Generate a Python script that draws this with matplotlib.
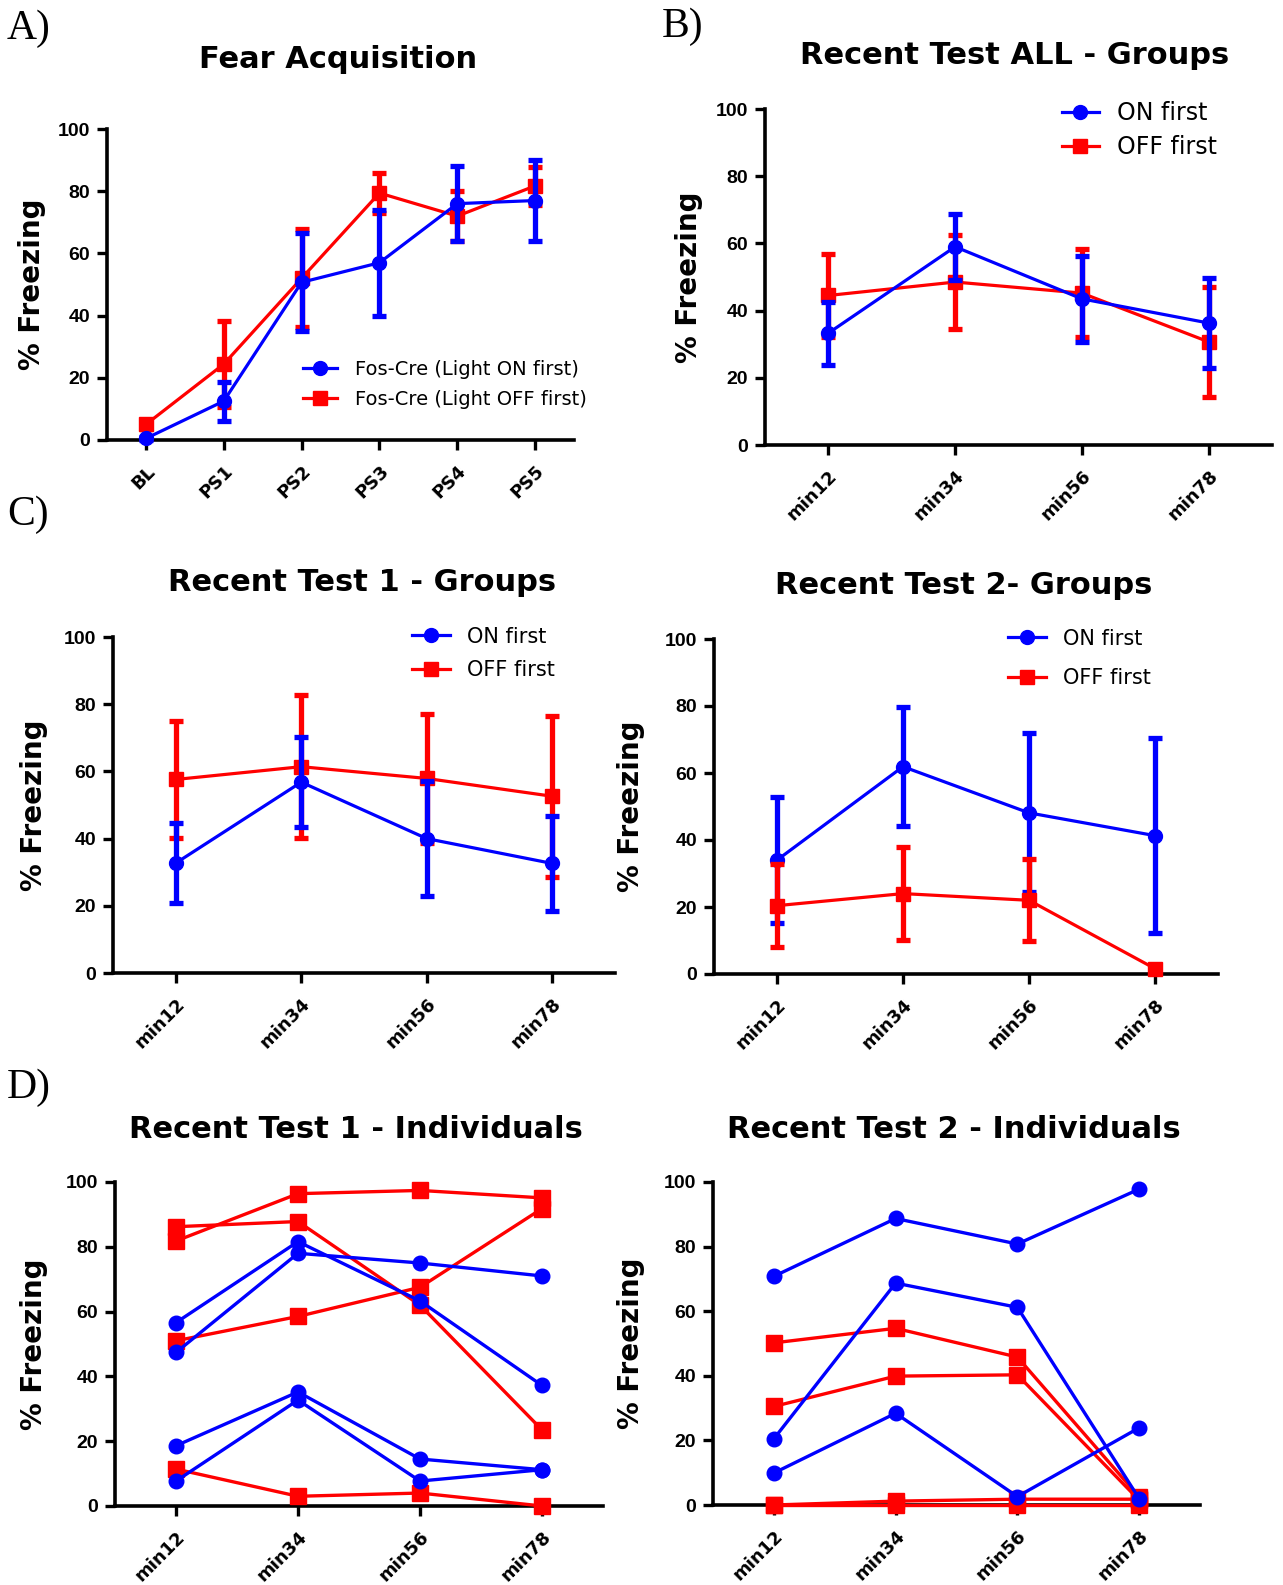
import matplotlib
matplotlib.use('Agg')
import matplotlib.pyplot as plt
import numpy as np

BLUE = '#0000FF'
RED = '#FF0000'

# ---------------- data ----------------
acq_labels = ['BL', 'PS1', 'PS2', 'PS3', 'PS4', 'PS5']
acq_on_mean = [0.5, 12.5, 50.7, 57.0, 76.0, 77.0]
acq_on_sem = [0.5, 6.3, 15.7, 17.0, 12.0, 13.0]
acq_off_mean = [5.0, 24.4, 52.0, 79.4, 72.0, 81.7]
acq_off_sem = [1.5, 13.8, 15.7, 6.3, 8.0, 6.2]

min_labels = ['min12', 'min34', 'min56', 'min78']

all_on_mean = [33.3, 59.0, 43.5, 36.3]
all_on_sem = [9.4, 9.8, 12.7, 13.4]
all_off_mean = [44.5, 48.5, 45.2, 30.7]
all_off_sem = [12.3, 14.1, 13.2, 16.4]

t1_on_mean = [32.7, 56.8, 40.0, 32.6]
t1_on_sem = [11.8, 13.3, 17.0, 14.0]
t1_off_mean = [57.6, 61.4, 57.9, 52.6]
t1_off_sem = [17.4, 21.2, 19.3, 24.0]

t2_on_mean = [34.0, 61.9, 48.1, 41.3]
t2_on_sem = [18.8, 17.7, 23.7, 29.1]
t2_off_mean = [20.4, 24.0, 22.0, 1.6]
t2_off_sem = [12.4, 13.9, 12.2, 0.0]

t1_ind_on_1 = [56.6, 81.6, 63.3, 37.2]
t1_ind_on_2 = [47.4, 78.0, 75.0, 71.0]
t1_ind_on_3 = [18.6, 35.2, 14.5, 11.2]
t1_ind_on_4 = [7.7, 32.7, 7.7, 11.2]
t1_ind_off_1 = [86.2, 87.8, 62.0, 23.5]
t1_ind_off_2 = [81.8, 96.4, 97.4, 95.1]
t1_ind_off_3 = [51.0, 58.5, 67.5, 91.8]
t1_ind_off_4 = [11.4, 3.0, 4.0, 0.0]

t2_ind_on_1 = [70.8, 88.7, 80.8, 97.8]
t2_ind_on_2 = [20.5, 68.7, 61.2, 2.0]
t2_ind_on_3 = [9.9, 28.4, 2.6, 23.9]
t2_ind_off_1 = [50.2, 54.7, 45.8, 2.5]
t2_ind_off_2 = [30.5, 39.9, 40.3, 1.5]
t2_ind_off_3 = [0.0, 1.2, 1.8, 1.8]
t2_ind_off_4 = [0.0, 0.0, 0.0, 0.0]

legend_on_A = 'Fos-Cre (Light ON first)'
legend_off_A = 'Fos-Cre (Light OFF first)'
legend_on = 'ON first'
legend_off = 'OFF first'
ylabel = '% Freezing'

# ---------------- style ----------------
W, H = 1283, 1585
fig = plt.figure(figsize=(W / 100, H / 100), dpi=100)

TITLE_FONT = dict(family='DejaVu Sans', weight='bold', size=22)
LABEL_FONT = dict(family='Liberation Serif', size=30)


def px_axes(left, top, right, bottom):
    return fig.add_axes([left / W, 1 - bottom / H, (right - left) / W, (bottom - top) / H])


def style_axes(ax, labels, ylab_x):
    n = len(labels)
    for s in ['top', 'right']:
        ax.spines[s].set_visible(False)
    for s in ['left', 'bottom']:
        ax.spines[s].set_linewidth(2.6)
    ax.set_ylim(0, 100)
    ax.set_xlim(-0.5, n - 0.5)
    ax.set_yticks(range(0, 101, 20))
    ax.set_xticks(np.arange(n))
    ax.set_xticklabels(labels, rotation=45, ha='right', va='top', rotation_mode='anchor',
                       family='DejaVu Sans', weight='bold', size=13)
    for t in ax.get_yticklabels():
        t.set_family('Liberation Sans')
        t.set_weight('bold')
        t.set_size(14)
    ax.tick_params(axis='both', width=2.4, length=7, direction='out')
    ax.tick_params(axis='x', pad=9)
    ax.tick_params(axis='y', pad=5)
    ax.set_ylabel(ylabel, family='DejaVu Sans', weight='bold', size=20)
    ax.yaxis.set_label_coords(ylab_x, 0.5)


def group_panel(ax, n, on_m, on_s, off_m, off_s, on_top=True):
    x = np.arange(n)
    z_on, z_off = (4, 3) if on_top else (3, 4)
    kw = dict(lw=2.3, elinewidth=3.8, capsize=5, capthick=3.8, ms=10, clip_on=False)
    off = ax.errorbar(x, off_m, yerr=off_s, color=RED, marker='s', zorder=z_off, **kw)
    on = ax.errorbar(x, on_m, yerr=on_s, color=BLUE, marker='o', zorder=z_on, **kw)
    for c in (on, off):
        for art in c.lines[1] + tuple(c.lines[2]):
            art.set_clip_on(False)
    return on, off


# ---------------- Panel A ----------------
axA = px_axes(107, 129, 574, 440)
onA, offA = group_panel(axA, 6, acq_on_mean, acq_on_sem, acq_off_mean, acq_off_sem)
style_axes(axA, acq_labels, -0.13)
axA.legend([onA[0], offA[0]], [legend_on_A, legend_off_A], loc='upper left',
           bbox_to_anchor=(0.42, 0.257), frameon=False, prop=dict(family='DejaVu Sans', size=14),
           handlelength=1.75, handletextpad=0.9, labelspacing=0.55, borderpad=0, borderaxespad=0)

# ---------------- Panel B ----------------
axB = px_axes(765, 109, 1272, 445)
onB, offB = group_panel(axB, 4, all_on_mean, all_on_sem, all_off_mean, all_off_sem)
style_axes(axB, min_labels, -0.122)
axB.legend([onB[0], offB[0]], [legend_on, legend_off], loc='upper left',
           bbox_to_anchor=(0.585, 1.023), frameon=False, prop=dict(family='DejaVu Sans', size=17),
           handlelength=1.6, handletextpad=0.75, labelspacing=0.43, borderpad=0, borderaxespad=0)

# ---------------- Panel C left ----------------
axC1 = px_axes(113, 637, 615, 973)
onC1, offC1 = group_panel(axC1, 4, t1_on_mean, t1_on_sem, t1_off_mean, t1_off_sem)
style_axes(axC1, min_labels, -0.13)
axC1.legend([onC1[0], offC1[0]], [legend_on, legend_off], loc='upper left',
            bbox_to_anchor=(0.595, 1.031), frameon=False, prop=dict(family='DejaVu Sans', size=15),
            handlelength=1.85, handletextpad=0.8, labelspacing=0.66, borderpad=0, borderaxespad=0)

# ---------------- Panel C right ----------------
axC2 = px_axes(714, 639, 1218, 974)
onC2, offC2 = group_panel(axC2, 4, t2_on_mean, t2_on_sem, t2_off_mean, t2_off_sem, on_top=False)
style_axes(axC2, min_labels, -0.137)
axC2.legend([onC2[0], offC2[0]], [legend_on, legend_off], loc='upper left',
            bbox_to_anchor=(0.583, 1.031), frameon=False, prop=dict(family='DejaVu Sans', size=15),
            handlelength=1.85, handletextpad=0.8, labelspacing=0.94, borderpad=0, borderaxespad=0)

# ---------------- Panel D ----------------
def individual_panel(ax, on_list, off_list):
    x = np.arange(4)
    for vals in off_list:
        ax.plot(x, vals, color=RED, marker='s', ms=11.5, lw=2.4, clip_on=False, zorder=3)
    for vals in on_list:
        ax.plot(x, vals, color=BLUE, marker='o', ms=10.5, lw=2.4, clip_on=False, zorder=4)


axD1 = px_axes(115, 1182, 603, 1506)
individual_panel(axD1, [t1_ind_on_1, t1_ind_on_2, t1_ind_on_3, t1_ind_on_4],
                 [t1_ind_off_1, t1_ind_off_2, t1_ind_off_3, t1_ind_off_4])
style_axes(axD1, min_labels, -0.138)

axD2 = px_axes(713, 1182, 1200, 1505)
individual_panel(axD2, [t2_ind_on_1, t2_ind_on_2, t2_ind_on_3],
                 [t2_ind_off_1, t2_ind_off_2, t2_ind_off_3, t2_ind_off_4])
style_axes(axD2, min_labels, -0.14)

# ---------------- titles & panel labels ----------------
titles = [
    ('Fear Acquisition', 338, 68),
    ('Recent Test ALL - Groups', 1015, 64),
    ('Recent Test 1 - Groups', 362, 591),
    ('Recent Test 2- Groups', 964, 594),
    ('Recent Test 1 - Individuals', 356, 1138),
    ('Recent Test 2 - Individuals', 954, 1138),
]
for txt, xc, yb in titles:
    fig.text(xc / W, 1 - yb / H, txt, ha='center', va='baseline', **TITLE_FONT)

panel_labels = [('A)', 7, 39), ('B)', 662, 37), ('C)', 7, 525), ('D)', 7, 1098)]
for txt, xl, yb in panel_labels:
    fig.text(xl / W, 1 - yb / H, txt, ha='left', va='baseline', **LABEL_FONT)

fig.savefig('out.png', dpi=100)
